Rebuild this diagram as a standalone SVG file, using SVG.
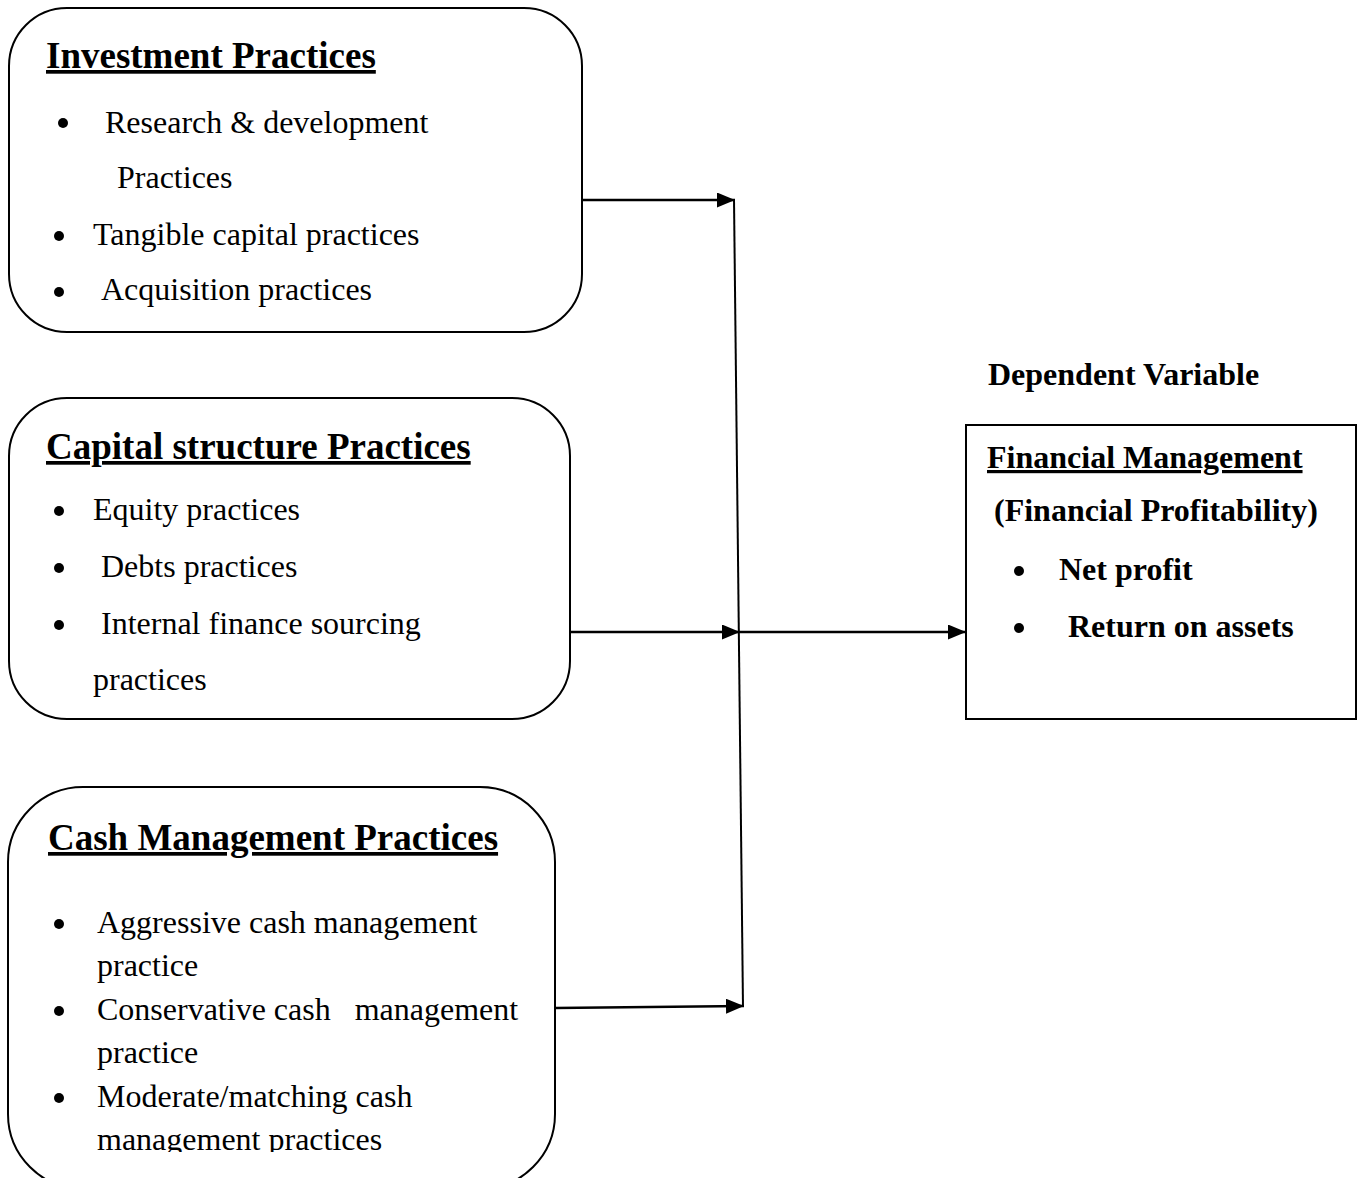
<svg xmlns="http://www.w3.org/2000/svg" width="1357" height="1178" viewBox="0 0 1357 1178">
<style>
.box{fill:#fff;stroke:#000;stroke-width:2}
.t{font-family:"Liberation Serif","Times New Roman",serif;font-size:32px;fill:#000}
.h{font-family:"Liberation Serif","Times New Roman",serif;font-size:37px;font-weight:bold;fill:#000;text-decoration:underline}
.b{font-family:"Liberation Serif","Times New Roman",serif;font-size:32px;font-weight:bold;fill:#000}
.u{text-decoration:underline}
.conn{stroke:#000;stroke-width:2.5;fill:none}
.dot{fill:#000}
</style>
<defs>
<marker id="arr" viewBox="0 0 18 15" refX="18" refY="7.5" markerWidth="18" markerHeight="15" markerUnits="userSpaceOnUse" orient="auto">
<path d="M0,0 L18,7.5 L0,15 Z" fill="#000"/>
</marker>
<clipPath id="clipBottom"><rect x="0" y="0" width="1357" height="1152"/></clipPath>
</defs>
<rect width="1357" height="1178" fill="#fff"/>

<g id="investment">
<rect class="box" x="9" y="8" width="573" height="324" rx="58" ry="58"/>
<text class="h" x="46" y="68">Investment Practices</text>
<circle class="dot" cx="63" cy="123" r="5"/>
<text class="t" x="105" y="133">Research &amp; development</text>
<text class="t" x="117" y="188">Practices</text>
<circle class="dot" cx="59" cy="236" r="5"/>
<text class="t" x="93" y="245">Tangible capital practices</text>
<circle class="dot" cx="59" cy="292" r="5"/>
<text class="t" x="101" y="300">Acquisition practices</text>
</g>

<g id="capital">
<rect class="box" x="9" y="398" width="561" height="321" rx="58" ry="58"/>
<text class="h" x="46" y="459">Capital structure Practices</text>
<circle class="dot" cx="59" cy="511" r="5"/>
<text class="t" x="93" y="520">Equity practices</text>
<circle class="dot" cx="59" cy="568" r="5"/>
<text class="t" x="101" y="577">Debts practices</text>
<circle class="dot" cx="59" cy="625" r="5"/>
<text class="t" x="101" y="634">Internal finance sourcing</text>
<text class="t" x="93" y="690">practices</text>
</g>

<g id="cash">
<rect class="box" x="8" y="787" width="547" height="402" rx="75" ry="75"/>
<text class="h" x="48" y="850">Cash Management Practices</text>
<circle class="dot" cx="59" cy="924" r="5"/>
<text class="t" x="97" y="933">Aggressive cash management</text>
<text class="t" x="97" y="976">practice</text>
<circle class="dot" cx="59" cy="1011" r="5"/>
<text class="t" x="97" y="1020" xml:space="preserve">Conservative cash   management</text>
<text class="t" x="97" y="1063">practice</text>
<circle class="dot" cx="59" cy="1098" r="5"/>
<text class="t" x="97" y="1107">Moderate/matching cash</text>
<text class="t" x="97" y="1150" clip-path="url(#clipBottom)">management practices</text>
</g>

<g id="dependent-label">
<text class="b" x="988" y="385">Dependent Variable</text>
</g>

<g id="financial">
<rect class="box" x="966" y="425" width="390" height="294"/>
<text class="b u" x="987" y="468">Financial Management</text>
<text class="b" x="994" y="521">(Financial Profitability)</text>
<circle class="dot" cx="1019" cy="571" r="5"/>
<text class="b" x="1059" y="580">Net profit</text>
<circle class="dot" cx="1019" cy="628" r="5"/>
<text class="b" x="1068" y="637">Return on assets</text>
</g>

<g id="connectors">
<line class="conn" x1="582" y1="200" x2="735" y2="200" marker-end="url(#arr)"/>
<line class="conn" x1="734" y1="199" x2="743" y2="1007" style="stroke-width:2"/>
<line class="conn" x1="570" y1="632" x2="740" y2="632" marker-end="url(#arr)"/>
<line class="conn" x1="740" y1="632" x2="966" y2="632" marker-end="url(#arr)"/>
<line class="conn" x1="555" y1="1008" x2="744" y2="1006" marker-end="url(#arr)"/>
</g>
</svg>
